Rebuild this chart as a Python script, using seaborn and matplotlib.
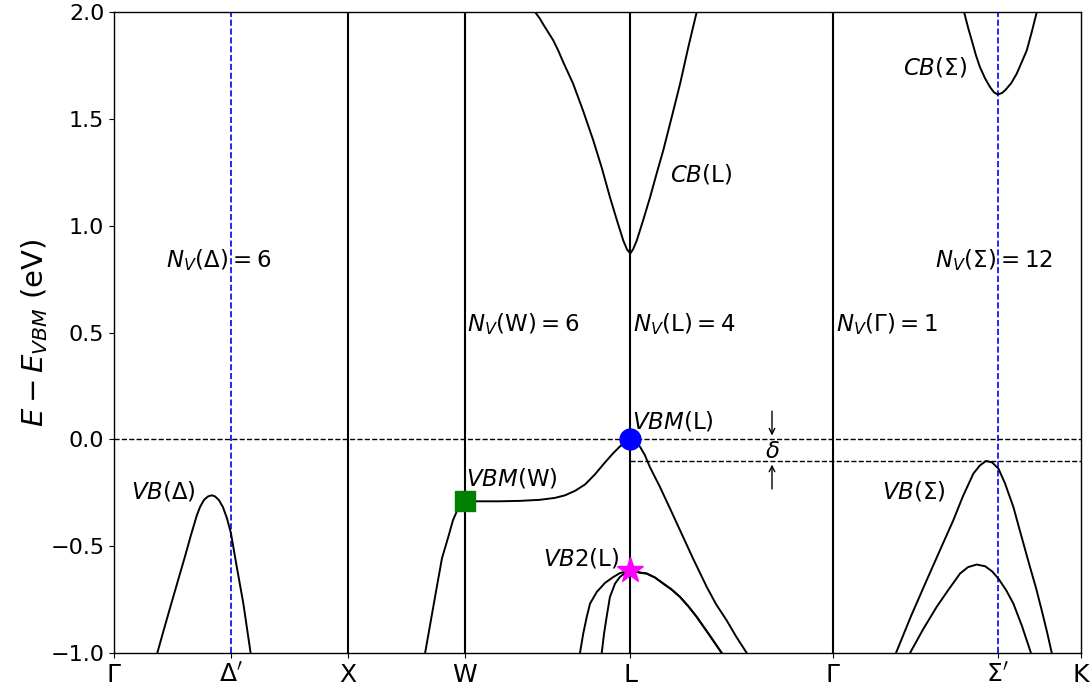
import numpy as np
import pandas as pd
import matplotlib
matplotlib.use("Agg")
import matplotlib.pyplot as plt
import seaborn as sns

# ---- high-symmetry path (FCC, units of 2pi/a) ----
tick_labels = [r"$\Gamma$", r"$\Delta'$", "X", "W", "L", r"$\Gamma$", r"$\Sigma'$", "K"]
tick_pos = [0.0, 0.5, 1.0, 1.5, 2.2071, 3.0731, 3.778, 4.1338]
solid_lines = [1.0, 1.5, 2.2071, 3.0731]
dashed_blue = [0.5, 3.778]

# ---- bands (k, E) ----
vb_delta_k = [0.185, 0.214, 0.247, 0.274, 0.304, 0.329, 0.354, 0.368, 0.385, 0.402, 0.418,
              0.432, 0.449, 0.466, 0.483, 0.500, 0.525, 0.553, 0.584]
vb_delta_E = [-1.0, -0.887, -0.761, -0.659, -0.546, -0.448, -0.356, -0.316, -0.283, -0.267, -0.262,
              -0.267, -0.285, -0.318, -0.370, -0.440, -0.598, -0.769, -1.0]

vbm_k = [1.330, 1.351, 1.380, 1.402, 1.429, 1.449, 1.471, 1.500, 1.543, 1.650, 1.736, 1.821,
         1.885, 1.928, 1.971, 2.014, 2.056, 2.099, 2.133, 2.163, 2.189, 2.2071,
         2.223, 2.249, 2.270, 2.291, 2.334, 2.377, 2.420, 2.475, 2.534, 2.574, 2.619, 2.659, 2.705]
vbm_E = [-1.0, -0.870, -0.691, -0.557, -0.457, -0.379, -0.323, -0.290, -0.290, -0.290, -0.288, -0.283,
         -0.274, -0.262, -0.241, -0.211, -0.164, -0.108, -0.066, -0.033, -0.009, 0.0,
         -0.007, -0.035, -0.075, -0.130, -0.223, -0.324, -0.426, -0.557, -0.691, -0.772, -0.847, -0.922, -1.0]

vb2_right_k = [2.249, 2.277, 2.313, 2.348, 2.384, 2.420, 2.455, 2.491, 2.541, 2.598]
vb2_right_E = [-0.624, -0.628, -0.647, -0.675, -0.703, -0.738, -0.781, -0.831, -0.909, -1.0]

vb2a_k = [1.992, 2.006, 2.021, 2.035, 2.064, 2.099, 2.135, 2.163, 2.2071] + vb2_right_k
vb2a_E = [-1.0, -0.909, -0.831, -0.769, -0.714, -0.672, -0.644, -0.626, -0.613] + vb2_right_E
vb2b_k = [2.085, 2.095, 2.106, 2.120, 2.142, 2.163, 2.185, 2.2071] + vb2_right_k
vb2b_E = [-1.0, -0.909, -0.831, -0.738, -0.675, -0.644, -0.626, -0.613] + vb2_right_E

cbl_k = [1.800, 1.820, 1.838, 1.858, 1.878, 1.899, 1.919, 1.963, 2.005, 2.049, 2.086, 2.120, 2.150,
         2.177, 2.193, 2.2071,
         2.219, 2.235, 2.262, 2.292, 2.320, 2.348, 2.384, 2.420, 2.454, 2.491]
cbl_E = [2.0, 1.970, 1.937, 1.902, 1.867, 1.820, 1.769, 1.664, 1.539, 1.399, 1.268, 1.134, 1.025,
         0.931, 0.889, 0.870,
         0.889, 0.931, 1.025, 1.134, 1.245, 1.352, 1.507, 1.664, 1.830, 2.0]

cbs_k = [3.634, 3.651, 3.667, 3.685, 3.702, 3.724, 3.745, 3.762, 3.778, 3.796, 3.809, 3.835,
         3.859, 3.882, 3.902, 3.924, 3.945]
cbs_E = [2.0, 1.928, 1.867, 1.797, 1.742, 1.689, 1.649, 1.624, 1.614, 1.621, 1.633, 1.666,
         1.711, 1.769, 1.820, 1.909, 2.0]

vbs1_k = [3.343, 3.407, 3.474, 3.531, 3.588, 3.629, 3.674, 3.702, 3.728, 3.754, 3.781, 3.809,
          3.845, 3.878, 3.916, 3.942, 3.966, 3.989, 4.009]
vbs1_E = [-1.0, -0.828, -0.660, -0.519, -0.379, -0.267, -0.160, -0.122, -0.101, -0.108, -0.137, -0.206,
          -0.317, -0.449, -0.598, -0.697, -0.800, -0.903, -1.0]
vbs2_k = [3.403, 3.459, 3.517, 3.566, 3.617, 3.651, 3.688, 3.724, 3.754, 3.781, 3.814, 3.845, 3.882, 3.920]
vbs2_E = [-1.0, -0.889, -0.784, -0.706, -0.628, -0.598, -0.586, -0.594, -0.618, -0.652, -0.706, -0.769,
          -0.875, -1.0]

bands = {
    "vb_delta": (vb_delta_k, vb_delta_E),
    "vbm": (vbm_k, vbm_E),
    "vb2a": (vb2a_k, vb2a_E),
    "vb2b": (vb2b_k, vb2b_E),
    "cbl": (cbl_k, cbl_E),
    "cbs": (cbs_k, cbs_E),
    "vbs1": (vbs1_k, vbs1_E),
    "vbs2": (vbs2_k, vbs2_E),
}
rows = []
for name, (ks, es) in bands.items():
    for k, e in zip(ks, es):
        rows.append({"band": name, "k": k, "E": e})
df = pd.DataFrame(rows)

# special points
marker_k = [2.2071, 1.5, 2.2071]
marker_E = [0.0, -0.290, -0.613]

sns.set_style("ticks")
plt.rcParams["font.family"] = ["DejaVu Sans"]
plt.rcParams["mathtext.fontset"] = "dejavusans"
for key in ["text.color", "axes.labelcolor", "xtick.color", "ytick.color", "axes.edgecolor"]:
    plt.rcParams[key] = "black"

fig = plt.figure(figsize=(10.91, 6.87), dpi=100)
ax = fig.add_axes([0.1045, 0.0495, 0.8863, 0.933])

for x in solid_lines:
    ax.axvline(x, color="black", lw=1.5, zorder=1)
for x in dashed_blue:
    ax.axvline(x, color="blue", lw=1.2, ls="--", zorder=1)
ax.axhline(0.0, color="black", lw=1.0, ls="--", zorder=1)
ax.plot([2.2071, 4.1338], [-0.1, -0.1], color="black", lw=1.0, ls="--", zorder=1)

sns.lineplot(data=df, x="k", y="E", units="band", estimator=None, sort=False,
             color="black", lw=1.4, ax=ax, legend=False, zorder=2)

ax.plot(marker_k[0], marker_E[0], "o", color="blue", ms=15, zorder=4)
ax.plot(marker_k[1], marker_E[1], "s", color="green", ms=15, zorder=4)
ax.plot(marker_k[2], marker_E[2], "*", color="magenta", ms=19, zorder=4)

fs = 16.5
ax.text(0.222, 0.838, r"$N_V(\Delta) = 6$", fontsize=fs, va="center")
ax.text(1.509, 0.538, r"$N_V(\mathrm{W}) = 6$", fontsize=fs, va="center")
ax.text(2.219, 0.538, r"$N_V(\mathrm{L}) = 4$", fontsize=fs, va="center")
ax.text(3.087, 0.538, r"$N_V(\Gamma) = 1$", fontsize=fs, va="center")
ax.text(3.510, 0.838, r"$N_V(\Sigma) = 12$", fontsize=fs, va="center")
ax.text(2.377, 1.24, r"$CB(\mathrm{L})$", fontsize=fs, va="center")
ax.text(3.373, 1.741, r"$CB(\Sigma)$", fontsize=fs, va="center")
ax.text(2.215, 0.085, r"$VBM(\mathrm{L})$", fontsize=fs, va="center")
ax.text(1.505, -0.185, r"$VBM(\mathrm{W})$", fontsize=fs, va="center")
ax.text(1.834, -0.560, r"$VB2(\mathrm{L})$", fontsize=fs, va="center")
ax.text(0.073, -0.245, r"$VB(\Delta)$", fontsize=fs, va="center")
ax.text(3.283, -0.245, r"$VB(\Sigma)$", fontsize=fs, va="center")
ax.text(2.813, -0.055, r"$\delta$", fontsize=fs, ha="center", va="center")

ax.annotate("", xy=(2.813, 0.005), xytext=(2.813, 0.145),
            arrowprops=dict(arrowstyle="->", color="black", lw=1.0))
ax.annotate("", xy=(2.813, -0.105), xytext=(2.813, -0.245),
            arrowprops=dict(arrowstyle="->", color="black", lw=1.0))

ax.set_xlim(0, 4.1338)
ax.set_ylim(-1.0, 2.0)
ax.set_xticks(tick_pos)
ax.set_xticklabels(tick_labels)
ax.set_yticks([-1.0, -0.5, 0.0, 0.5, 1.0, 1.5, 2.0])
ax.tick_params(axis="y", labelsize=16)
ax.tick_params(axis="x", labelsize=18)
ax.set_xlabel("")
ax.set_ylabel(r"$E - E_{VBM}$ (eV)", fontsize=21, labelpad=0)
for s in ax.spines.values():
    s.set_visible(True)
    s.set_linewidth(1.0)

fig.savefig("out.png", dpi=100)
